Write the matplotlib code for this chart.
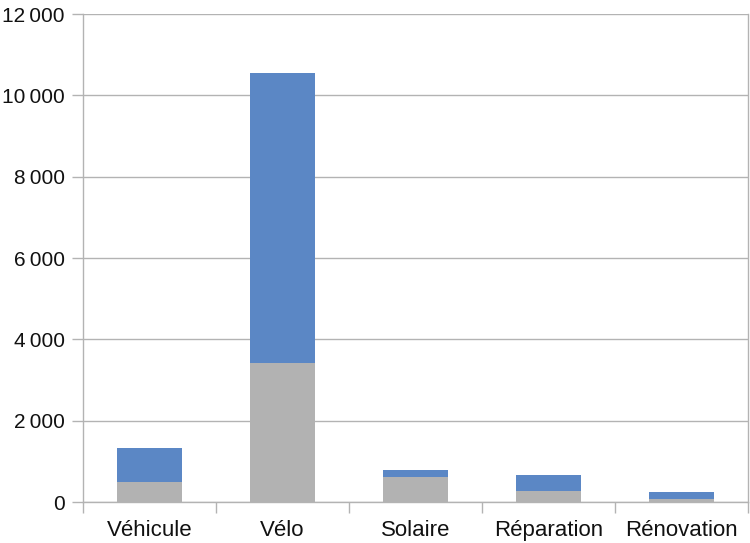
import matplotlib.pyplot as plt
from matplotlib.ticker import FuncFormatter, MultipleLocator

categories = ['Véhicule', 'Vélo', 'Solaire', 'Réparation', 'Rénovation']
bottom_values = [500, 3425, 623, 270, 82]
top_values = [820, 7115, 165, 395, 155]

plt.rcParams['font.family'] = ['Liberation Sans', 'DejaVu Sans']

fig = plt.figure(figsize=(7.5, 5.43), dpi=100)
ax = fig.add_axes([83 / 750, 1 - 502 / 543, 665 / 750, 488 / 543])

x = list(range(len(categories)))
ax.bar(x, bottom_values, width=0.49, color='#b2b2b2', zorder=3)
ax.bar(x, top_values, width=0.49, bottom=bottom_values, color='#5b87c5', zorder=3)

ax.set_xlim(-0.5, len(categories) - 0.5)
ax.set_ylim(0, 12000)
ax.yaxis.set_major_locator(MultipleLocator(2000))
# French style: thin space as thousands separator
ax.yaxis.set_major_formatter(FuncFormatter(lambda v, p: f"{v:,.0f}".replace(",", "\u2009")))

# category ticks sit between the bars
ax.set_xticks([i - 0.5 for i in range(len(categories) + 1)])
ax.set_xticklabels([])
ax.set_xticks(x, minor=True)
ax.set_xticklabels(categories, minor=True)
ax.tick_params(axis='x', which='minor', length=0, pad=13, labelsize=16, labelcolor='#111111')
ax.tick_params(axis='x', which='major', length=8, width=1, color='#b3b3b3')
ax.tick_params(axis='y', length=8, width=1, color='#b3b3b3', pad=5, labelsize=15, labelcolor='#111111')

ax.grid(axis='y', color='#b3b3b3', linewidth=1, zorder=0)
for side in ['left', 'right', 'bottom']:
    ax.spines[side].set_color('#b3b3b3')
    ax.spines[side].set_linewidth(1)
ax.spines['top'].set_visible(False)

plt.savefig('out.png', dpi=100)
